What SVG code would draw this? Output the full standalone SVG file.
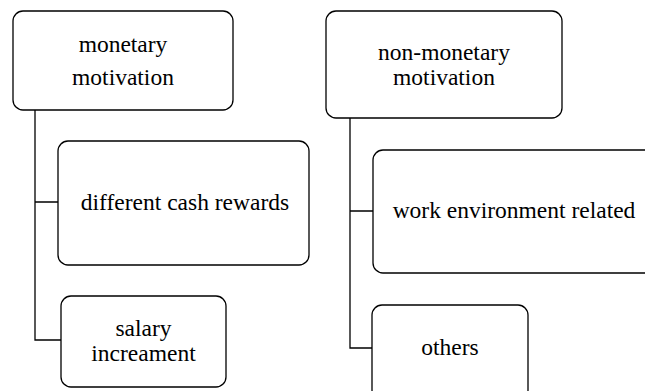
<svg xmlns="http://www.w3.org/2000/svg" width="645" height="391" viewBox="0 0 645 391">
<style>
.box{fill:#fff;stroke:#000;stroke-width:1.3}
.t{font-family:"Liberation Serif","Times New Roman",serif;font-size:23.5px;fill:#000;text-anchor:middle}
.c{fill:none;stroke:#000;stroke-width:1.3}
</style>
<rect width="645" height="391" fill="#fff"/>
<g id="connectors">
<path class="c" d="M35 110V340H61M35 202H58"/>
<path class="c" d="M350 118V348H372M350 211H373"/>
</g>
<g id="monetary">
<rect class="box" x="13" y="11" width="220" height="99" rx="10"/>
<text class="t" x="123" y="51.5">monetary</text>
<text class="t" x="123" y="85">motivation</text>
</g>
<g id="cash">
<rect class="box" x="58" y="141" width="251" height="124" rx="10"/>
<text class="t" x="185" y="210">different cash rewards</text>
</g>
<g id="salary">
<rect class="box" x="61" y="296" width="165" height="91" rx="10"/>
<text class="t" x="143.5" y="336">salary</text>
<text class="t" x="143.5" y="361">increament</text>
</g>
<g id="nonmonetary">
<rect class="box" x="326" y="11" width="236" height="107" rx="10"/>
<text class="t" x="444" y="60">non-monetary</text>
<text class="t" x="444" y="84.5">motivation</text>
</g>
<g id="work">
<rect class="box" x="373" y="150" width="290" height="123" rx="10"/>
<text class="t" x="514" y="218">work environment related</text>
</g>
<g id="others">
<rect class="box" x="372" y="305" width="156" height="95" rx="10"/>
<text class="t" x="450" y="355">others</text>
</g>
</svg>
